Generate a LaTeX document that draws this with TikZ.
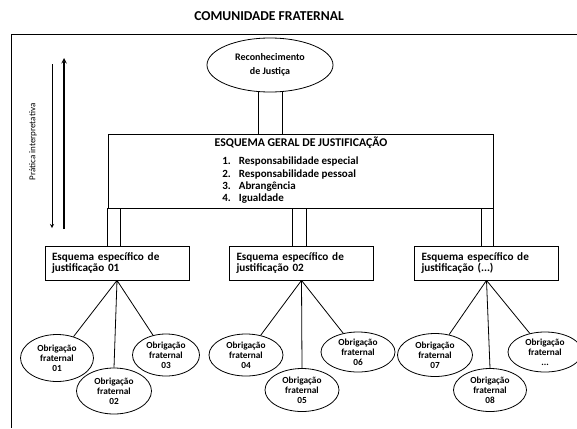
\documentclass[tikz,border=0pt]{standalone}
\usepackage{fontspec}
\setmainfont{Carlito}
\usepackage{xcolor}
\usetikzlibrary{shapes.geometric}

\tikzset{
    obrig/.style={draw, ellipse, inner sep=0pt, align=center,
        font=\bfseries\fontsize{9.3}{10}\selectfont},
    esqbox/.style={draw, minimum width=144pt, minimum height=34pt,
        text width=130pt, align=left, inner sep=0pt,
        font=\bfseries\fontsize{11.2}{11.5}\selectfont},
}

\begin{document}
\begin{tikzpicture}[x=1pt, y=-1pt, line width=0.8pt]
    \useasboundingbox (0,0) rectangle (577,428);

    % frame
    \node [font=\bfseries\fontsize{13.6}{15}\selectfont] (titulo) at (269,16) {COMUNIDADE FRATERNAL};
    \coordinate (fr) at (577,34);
    \coordinate (fb) at (11,428);
    \draw (fr) -| (fb);

    % reconhecimento
    \node [draw, ellipse,
        minimum width=126pt,
        minimum height=54pt,
        inner sep=0pt, align=center,
        font=\bfseries\fontsize{10}{14.5}\selectfont,
    ] (recon) at (270,65) {Reconhecimento\\de Justiça};

    % esquema geral
    \node [draw,
        minimum width=385pt,
        minimum height=74pt,
    ] (geral) at (300.5,171) {};
    \node [font=\bfseries\fontsize{11.8}{12}\selectfont] (gtitulo) at (301,143) {ESQUEMA GERAL DE JUSTIFICAÇÃO};
    \node [anchor=north west, inner sep=0pt,
        font=\bfseries\fontsize{11}{12.2}\selectfont,
    ] (glista) at (222,156) {%
        \begin{tabular}{@{}l@{\hspace{8pt}}l@{}}
        1. & Responsabilidade especial\\
        2. & Responsabilidade pessoal\\
        3. & Abrangência\\
        4. & Igualdade
        \end{tabular}};

    \draw ([xshift=-12pt]recon.south) -- ([xshift=-12pt]recon.south |- geral.north);
    \draw ([xshift=12pt]recon.south) -- ([xshift=12pt]recon.south |- geral.north);

    % pratica interpretativa
    \coordinate (cima) at (64,58);
    \coordinate (baixo) at (64,229);
    \coordinate (tcima) at (52,64);
    \coordinate (tbaixo) at (52,228);
    \draw [-stealth, line width=1.4pt] (baixo) -- (cima);
    \draw [-stealth] (tcima) -- (tbaixo);
    \node [rotate=90, font=\fontsize{9}{10}\selectfont] (pratica) at (33,142) {Prática interpretativa};

    % esquemas especificos
    \node [esqbox] (esq1) at (117,263) {Esquema específico de\\justificação 01};
    \node [esqbox] (esq2) at (301.5,263) {Esquema específico de\\justificação 02};
    \node [esqbox] (esq3) at (486.5,263) {Esquema específico de\\justificação (...)};

    \draw (geral.south west) -- (geral.south west |- esq1.north);
    \draw ([xshift=13pt]geral.south west) -- ([xshift=13pt]geral.south west |- esq1.north);
    \draw ([xshift=-8pt]geral.south) -- ([xshift=-8pt]geral.south |- esq2.north);
    \draw ([xshift=5.5pt]geral.south) -- ([xshift=5.5pt]geral.south |- esq2.north);
    \draw ([xshift=-12pt]geral.south east) -- ([xshift=-12pt]geral.south east |- esq3.north);
    \draw (geral.south east) -- (geral.south east |- esq3.north);

    % obrigacoes
    \node [obrig, minimum width=73pt, minimum height=47pt] (ob1) at (57,358) {Obrigação\\fraternal\\01};
    \node [obrig, minimum width=75pt, minimum height=46pt] (ob2) at (114,391) {Obrigação\\fraternal\\02};
    \node [obrig, minimum width=67pt, minimum height=42pt] (ob3) at (166,355) {Obrigação\\fraternal\\03};
    \node [obrig, minimum width=74pt, minimum height=42pt] (ob4) at (246,355) {Obrigação\\fraternal\\04};
    \node [obrig, minimum width=74pt, minimum height=43pt] (ob5) at (302,390) {Obrigação\\fraternal\\05};
    \node [obrig, minimum width=74pt, minimum height=40pt] (ob6) at (358,352) {Obrigação\\fraternal\\06};
    \node [obrig, minimum width=75pt, minimum height=43pt] (ob7) at (435,355) {Obrigação\\fraternal\\07};
    \node [obrig, minimum width=73pt, minimum height=43pt] (ob8) at (490,390) {Obrigação\\fraternal\\08};
    \node [obrig, minimum width=74pt, minimum height=40pt] (ob9) at (545,352) {Obrigação\\fraternal\\...};

    \draw (esq1.south) -- (ob1) (esq1.south) -- (ob2.north) (esq1.south) -- (ob3);
    \draw (esq2.south) -- (ob4) (esq2.south) -- (ob5.north) (esq2.south) -- (ob6);
    \draw (esq3.south) -- (ob7) (esq3.south) -- (ob8.north) (esq3.south) -- (ob9);
\end{tikzpicture}
\end{document}
